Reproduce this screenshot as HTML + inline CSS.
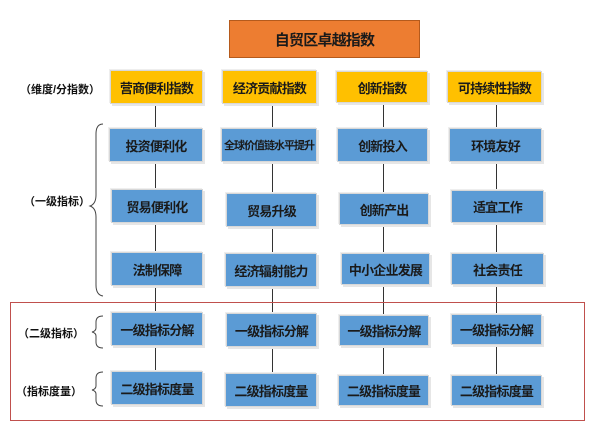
<html><head><style>
body{margin:0;width:600px;height:430px;background:#fff;position:relative;font-family:"Liberation Sans","Noto Sans CJK SC",sans-serif;overflow:hidden}
.b{position:absolute;display:flex;align-items:center;justify-content:center;font-weight:bold;font-size:13px;color:#1a1a1a;box-shadow:2px 2px 0 #e6e6e6,-1px -1px 0 #eee;border:1px solid #d8d8d8;box-sizing:border-box;white-space:nowrap;letter-spacing:-0.8px}
.y{background:#FFC000}
.bl{background:#5B9BD5}
.t{position:absolute;font-size:11px;font-weight:bold;color:#111;white-space:nowrap}
</style></head><body>
<div class="b" style="left:229px;top:20px;width:191px;height:38px;background:#ED7D31;font-size:15px;border:1px solid #b55a1c;box-shadow:none">自贸区卓越指数</div>
<svg width="600" height="430" style="position:absolute;left:0;top:0">
<g stroke="#333" stroke-width="1">
<line x1="155.5" y1="100" x2="155.5" y2="380"/>
<line x1="272.5" y1="100" x2="272.5" y2="380"/>
<line x1="383.5" y1="100" x2="383.5" y2="380"/>
<line x1="496.5" y1="100" x2="496.5" y2="380"/>
</g>
<rect x="10.5" y="302.5" width="574" height="118" fill="none" stroke="#c0504d" stroke-width="1"/>
<g fill="none" stroke="#444" stroke-width="1">
<path d="M103 124 Q96 124 96 134 L96 195 Q96 204 90 206 Q96 208 96 217 L96 285 Q96 295 103 296"/>
<path d="M103 316 Q96 316 96 322 L96 328 Q96 331 92 332 Q96 333 96 336 L96 342 Q96 348 103 348"/>
<path d="M103 372 Q96 372 96 378 L96 386 Q96 389 92 390 Q96 391 96 394 L96 400 Q96 406 103 406"/>
</g>
</svg>
<div class="t" style="left:20px;top:81px">（维度/分指数）</div>
<div class="t" style="left:24px;top:193px">（一级指标）</div>
<div class="t" style="left:18px;top:325px">（二级指标）</div>
<div class="t" style="left:16px;top:383px">（指标度量）</div>

<div class="b y" style="left:110px;top:70px;width:93px;height:34px">营商便利指数</div>
<div class="b y" style="left:222px;top:70px;width:95px;height:34px">经济贡献指数</div>
<div class="b y" style="left:336px;top:71px;width:92px;height:32px">创新指数</div>
<div class="b y" style="left:447px;top:71px;width:95px;height:32px">可持续性指数</div>

<div class="b bl" style="left:109px;top:128px;width:94px;height:34px">投资便利化</div>
<div class="b bl" style="left:221px;top:128px;width:96px;height:34px;font-size:11px;letter-spacing:-1px">全球价值链水平提升</div>
<div class="b bl" style="left:337px;top:128px;width:91px;height:34px">创新投入</div>
<div class="b bl" style="left:449px;top:128px;width:93px;height:34px">环境友好</div>

<div class="b bl" style="left:111px;top:189px;width:92px;height:34px">贸易便利化</div>
<div class="b bl" style="left:226px;top:193px;width:91px;height:34px">贸易升级</div>
<div class="b bl" style="left:339px;top:193px;width:90px;height:32px">创新产出</div>
<div class="b bl" style="left:451px;top:190px;width:93px;height:33px">适宜工作</div>

<div class="b bl" style="left:111px;top:252px;width:92px;height:34px">法制保障</div>
<div class="b bl" style="left:225px;top:253px;width:92px;height:34px">经济辐射能力</div>
<div class="b bl" style="left:341px;top:253px;width:89px;height:32px">中小企业发展</div>
<div class="b bl" style="left:451px;top:253px;width:93px;height:32px">社会责任</div>

<div class="b bl" style="left:111px;top:312px;width:92px;height:34px">一级指标分解</div>
<div class="b bl" style="left:226px;top:313px;width:91px;height:34px">一级指标分解</div>
<div class="b bl" style="left:339px;top:315px;width:90px;height:31px">一级指标分解</div>
<div class="b bl" style="left:451px;top:314px;width:91px;height:31px">一级指标分解</div>

<div class="b bl" style="left:111px;top:371px;width:92px;height:34px">二级指标度量</div>
<div class="b bl" style="left:225px;top:373px;width:92px;height:34px">二级指标度量</div>
<div class="b bl" style="left:338px;top:375px;width:91px;height:31px">二级指标度量</div>
<div class="b bl" style="left:451px;top:375px;width:91px;height:31px">二级指标度量</div>
</body></html>
